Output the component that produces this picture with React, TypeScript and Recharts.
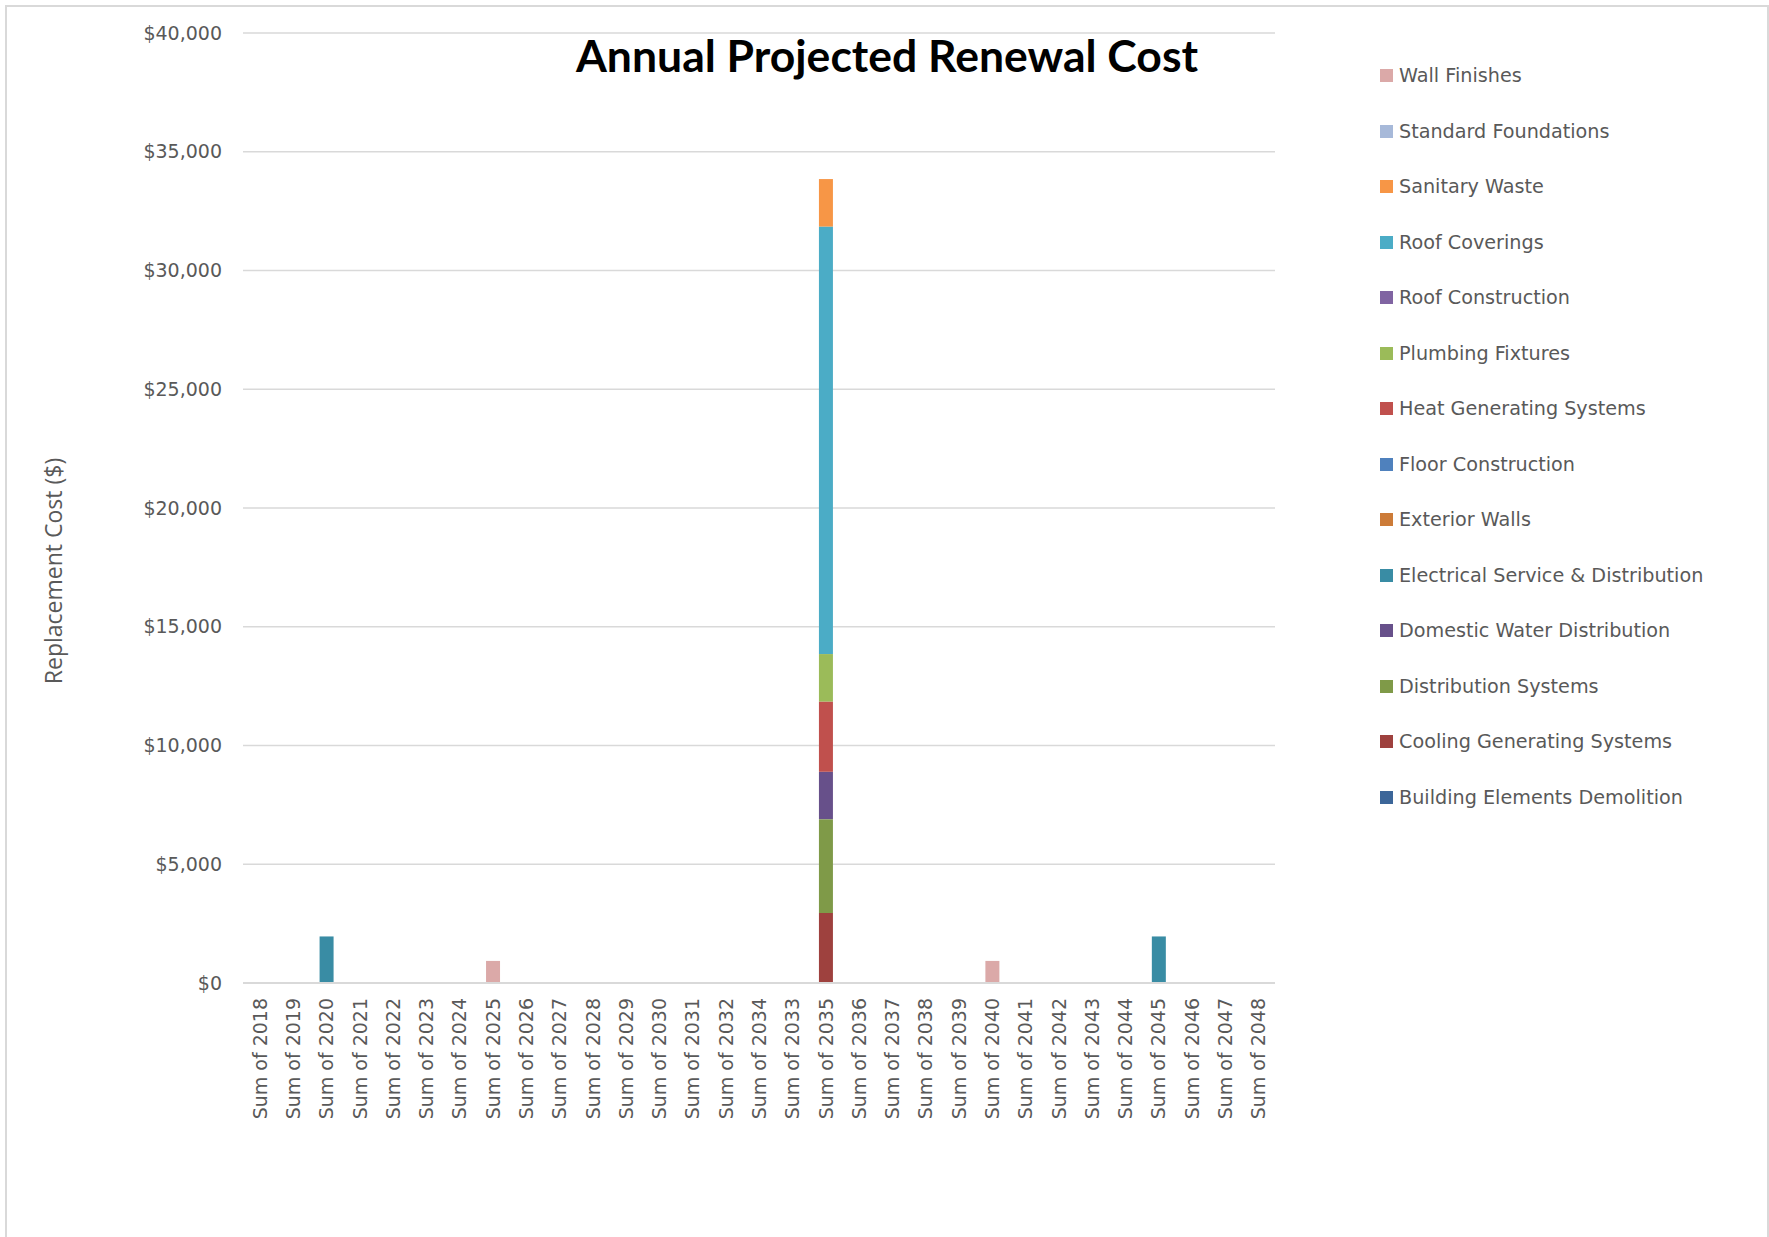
import React from 'react';
import { BarChart, Bar, XAxis, YAxis, CartesianGrid, Legend } from 'recharts';

const categories = [
    'Sum of 2018', 'Sum of 2019', 'Sum of 2020', 'Sum of 2021', 'Sum of 2022', 'Sum of 2023',
    'Sum of 2024', 'Sum of 2025', 'Sum of 2026', 'Sum of 2027', 'Sum of 2028', 'Sum of 2029',
    'Sum of 2030', 'Sum of 2031', 'Sum of 2032', 'Sum of 2034', 'Sum of 2033', 'Sum of 2035',
    'Sum of 2036', 'Sum of 2037', 'Sum of 2038', 'Sum of 2039', 'Sum of 2040', 'Sum of 2041',
    'Sum of 2042', 'Sum of 2043', 'Sum of 2044', 'Sum of 2045', 'Sum of 2046', 'Sum of 2047',
    'Sum of 2048',
];

// non-zero cells only, [category, cost]
const buildingElementsDemolition: [string, number][] = [];
const coolingGeneratingSystems: [string, number][] = [['Sum of 2035', 2950]];
const distributionSystems: [string, number][] = [['Sum of 2035', 3950]];
const domesticWaterDistribution: [string, number][] = [['Sum of 2035', 2000]];
const electricalService: [string, number][] = [['Sum of 2020', 1960], ['Sum of 2045', 1960]];
const exteriorWalls: [string, number][] = [];
const floorConstruction: [string, number][] = [];
const heatGeneratingSystems: [string, number][] = [['Sum of 2035', 2950]];
const plumbingFixtures: [string, number][] = [['Sum of 2035', 2000]];
const roofConstruction: [string, number][] = [];
const roofCoverings: [string, number][] = [['Sum of 2035', 18000]];
const sanitaryWaste: [string, number][] = [['Sum of 2035', 2000]];
const standardFoundations: [string, number][] = [];
const wallFinishes: [string, number][] = [['Sum of 2025', 930], ['Sum of 2040', 930]];

const yTicks = [0, 5000, 10000, 15000, 20000, 25000, 30000, 35000, 40000];

// stacking order, bottom first
const series = [
    { name: 'Building Elements Demolition', values: buildingElementsDemolition, color: '#3C6699' },
    { name: 'Cooling Generating Systems', values: coolingGeneratingSystems, color: '#9E413E' },
    { name: 'Distribution Systems', values: distributionSystems, color: '#7F9A48' },
    { name: 'Domestic Water Distribution', values: domesticWaterDistribution, color: '#67508A' },
    { name: 'Electrical Service & Distribution', values: electricalService, color: '#398CA4' },
    { name: 'Exterior Walls', values: exteriorWalls, color: '#CC7B38' },
    { name: 'Floor Construction', values: floorConstruction, color: '#4F81BD' },
    { name: 'Heat Generating Systems', values: heatGeneratingSystems, color: '#C0504D' },
    { name: 'Plumbing Fixtures', values: plumbingFixtures, color: '#9BBB59' },
    { name: 'Roof Construction', values: roofConstruction, color: '#8064A2' },
    { name: 'Roof Coverings', values: roofCoverings, color: '#4BACC6' },
    { name: 'Sanitary Waste', values: sanitaryWaste, color: '#F79646' },
    { name: 'Standard Foundations', values: standardFoundations, color: '#A7B9D9' },
    { name: 'Wall Finishes', values: wallFinishes, color: '#DBA9A8' },
];

const tableData = categories.map((cat) => {
    const row: { [key: string]: string | number } = { category: cat };
    for (const s of series) {
        const hit = s.values.find((v) => v[0] === cat);
        row[s.name] = hit ? hit[1] : 0;
    }
    return row;
});

const axisFont = '"DejaVu Sans", sans-serif';
const gray = '#595959';

function XTick(props: any) {
    const { x, y, payload } = props;
    return (
        <g transform={`translate(${x},${y}) rotate(-90)`}>
            <text textAnchor="end" dominantBaseline="central" fill={gray} fontSize={19} fontFamily={axisFont}>
                {payload.value}
            </text>
        </g>
    );
}

function LegendList() {
    return (
        <div style={{ fontFamily: axisFont, fontSize: 19.2, color: gray }}>
            {[...series].reverse().map((s) => (
                <div key={s.name} style={{ height: 55.5, display: 'flex', alignItems: 'center', whiteSpace: 'nowrap' }}>
                    <span style={{ width: 13, height: 13, background: s.color, marginRight: 6, display: 'inline-block' }} />
                    {s.name}
                </div>
            ))}
        </div>
    );
}

export default function App() {
    return (
        <div style={{ position: 'fixed', left: 0, top: 0, width: 1769, height: 1237, background: '#fff', overflow: 'hidden' }}>
            <div style={{ position: 'absolute', left: 5, top: 5, width: 1760, height: 1300, border: '2px solid #D9D9D9' }} />
            <div style={{
                position: 'absolute', left: 0, top: 33, width: 1774, textAlign: 'center',
                fontFamily: 'Lato, sans-serif', fontWeight: 700, fontSize: 44.5, lineHeight: 1, color: '#000',
            }}>
                Annual Projected Renewal Cost
            </div>
            <div style={{
                position: 'absolute', left: 53, top: 571, transform: 'translate(-50%, -50%) rotate(-90deg)',
                fontFamily: '"Open Sans", sans-serif', fontSize: 23, color: gray, whiteSpace: 'nowrap',
            }}>
                Replacement Cost ($)
            </div>
            <div style={{ position: 'absolute', left: 0, top: 0 }}>
                <BarChart width={1769} height={1237} data={tableData} margin={{ top: 33, right: 114, bottom: 0, left: 0 }}>
                    <CartesianGrid vertical={false} stroke="#D9D9D9" strokeWidth={1.5} />
                    <XAxis
                        dataKey="category"
                        height={254}
                        interval={0}
                        tickLine={false}
                        tickSize={0}
                        tickMargin={15}
                        axisLine={{ stroke: '#D9D9D9', strokeWidth: 2 }}
                        tick={<XTick />}
                    />
                    <YAxis
                        width={243}
                        domain={[0, 40000]}
                        ticks={yTicks}
                        axisLine={false}
                        tickLine={false}
                        tickSize={0}
                        tickMargin={21}
                        tickFormatter={(v: number) => '$' + v.toLocaleString('en-US')}
                        tick={{ fill: gray, fontSize: 19, fontFamily: axisFont }}
                    />
                    <Legend
                        layout="vertical"
                        verticalAlign="top"
                        align="right"
                        wrapperStyle={{ left: 1380, top: 48, width: 380 }}
                        content={() => <LegendList />}
                    />
                    {series.map((s) => (
                        <Bar key={s.name} dataKey={s.name} stackId="cost" fill={s.color} barSize={14} isAnimationActive={false} />
                    ))}
                </BarChart>
            </div>
        </div>
    );
}
